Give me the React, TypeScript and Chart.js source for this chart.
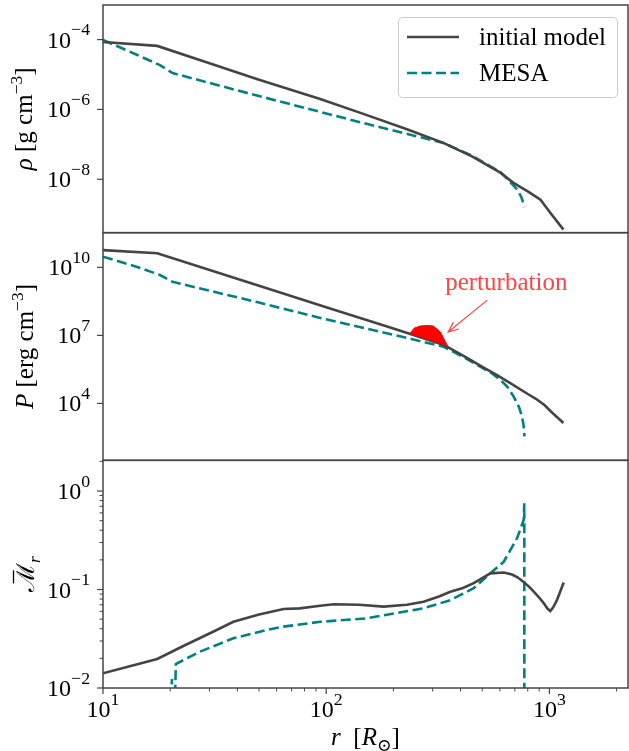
import React, { useEffect, useRef } from "react";
import { Chart, registerables } from "chart.js";

Chart.register(...registerables);

// ---------- axis ranges ----------
const R_RANGE = [10, 2250];
const RHO_RANGE = [2.95e-10, 9.8e-4];
const P_RANGE = [30.9, 3.39e11];
const M_RANGE = [0.01, 2.05];

// ---------- tick labels (exponents of 10) ----------
const xTickExps = [1, 2, 3];
const rhoTickExps = [-8, -6, -4];
const pTickExps = [4, 7, 10];
const mTickExps = [-2, -1, 0];
const xMinorTicks = [20, 30, 40, 50, 60, 70, 80, 90, 200, 300, 400, 500, 600, 700, 800, 900, 2000];
const mMinorTicks = [0.02, 0.03, 0.04, 0.05, 0.06, 0.07, 0.08, 0.09, 0.2, 0.3, 0.4, 0.5, 0.6, 0.7, 0.8, 0.9, 2];

// ---------- texts ----------
const seriesLabels = ["initial model", "MESA"];
const annotationText = "perturbation";

// ---------- panel 1: density ----------
const initRhoR = [10, 17.5, 30, 50, 94, 150, 230, 335, 450, 603, 690, 800, 912, 1009, 1156];
const initRho = [8.5e-5, 6.6e-5, 2.1e-5, 7.1e-6, 2.0e-6, 7.1e-7, 2.7e-7, 1.1e-7, 4.5e-8, 1.55e-8, 7.9e-9, 4.5e-9, 2.6e-9, 1.1e-9, 3.6e-10];
const mesaRhoR = [10, 14, 18, 20.5, 40, 94, 153, 250, 335, 450, 603, 650, 719, 750, 773];
const mesaRho = [9.8e-5, 3.8e-5, 1.86e-5, 1.1e-5, 3.5e-6, 8.5e-7, 3.8e-7, 1.74e-7, 1.1e-7, 4.7e-8, 1.6e-8, 1.0e-8, 5.0e-9, 3.0e-9, 1.6e-9];

// ---------- panel 2: pressure ----------
const initPR = [10, 17.5, 50, 100, 200, 335, 420, 501, 580, 668, 800, 870, 950, 1030, 1156];
const initP = [5.75e10, 4.2e10, 1.55e9, 1.74e8, 2.0e7, 3.9e6, 1.12e6, 4.1e5, 1.8e5, 7.9e4, 2.6e4, 1.6e4, 8.5e3, 3.9e3, 1.38e3];
const mesaPR = [10, 14, 18, 20.5, 50, 94, 200, 335, 420, 490, 550, 603, 650, 692, 730, 754, 767, 773];
const mesaP = [2.95e10, 1.1e10, 4.6e9, 2.3e9, 2.8e8, 5.9e7, 1.07e7, 3.2e6, 1.0e6, 4.2e5, 2.2e5, 1.1e5, 5.2e4, 2.0e4, 7.1e3, 2.6e3, 1.0e3, 350];
const pertR = [238, 248, 264, 284, 302, 325, 342, 353];
const pertP = [1.23e7, 2.1e7, 2.6e7, 2.75e7, 2.6e7, 1.4e7, 5.2e6, 3.0e6];

// ---------- panel 3: Mach-like quantity ----------
const initMR = [10, 17.5, 22.9, 31.3, 38.4, 50, 64.4, 76, 94, 108, 140, 181, 230, 273, 320, 360, 410, 458, 544, 624, 680, 720, 764, 810, 851, 900, 944, 980, 1009, 1040, 1081, 1159];
const initM = [0.0141, 0.0197, 0.0267, 0.0375, 0.0471, 0.0557, 0.0634, 0.0644, 0.0685, 0.0708, 0.070, 0.067, 0.070, 0.075, 0.085, 0.095, 0.1035, 0.116, 0.146, 0.149, 0.142, 0.133, 0.120, 0.107, 0.095, 0.083, 0.0724, 0.064, 0.0605, 0.066, 0.078, 0.118];
const mesaMR = [20.0, 20.35, 20.7, 21.2, 27.2, 38.4, 54.2, 64.4, 94, 152, 273, 360, 458, 544, 624, 716, 767, 772, 772.5];
const mesaM = [0.002, 0.0123, 0.002, 0.0175, 0.0234, 0.032, 0.0388, 0.042, 0.047, 0.051, 0.0644, 0.078, 0.103, 0.146, 0.191, 0.331, 0.508, 0.75, 1e-5];

// ---------- styles ----------
const SOLID = "#444444";
const TEAL = "#008080";
const RED = "#ff0000";
const ANNOT = "#ff4444";
const AXIS = "#444444";
const FAMILY = '"Liberation Serif", "DejaVu Serif", serif';
const TICK_SIZE = 24;
const LABEL_SIZE = 25;
const LEGEND_SIZE = 25;
const LINE_W = 2.6;
const DASH = [10, 4.5];

type Seg = { t: string; it?: boolean; sup?: boolean; sub?: boolean; bar?: boolean };

const rhoTitle: Seg[] = [{ t: "ρ", it: true }, { t: " [g cm" }, { t: "−3", sup: true }, { t: "]" }];
const pTitle: Seg[] = [{ t: "P", it: true }, { t: " [erg cm" }, { t: "−3", sup: true }, { t: "]" }];
const mTitle: Seg[] = [{ t: "ℳ", bar: true }, { t: "r", it: true, sub: true }];
const xTitle: Seg[] = [{ t: "r", it: true }, { t: "  [" }, { t: "R", it: true }, { t: "⊙", sub: true }, { t: "]" }];

const pts = (xs: number[], ys: number[]) => xs.map((x, i) => ({ x, y: ys[i] }));

type MathStyle = { supScale: number; supRaise: number };
const TICK_STYLE: MathStyle = { supScale: 0.74, supRaise: 0.52 };
const TITLE_STYLE: MathStyle = { supScale: 0.7, supRaise: 0.4 };

function segFont(s: Seg, size: number, st: MathStyle) {
  const sz = s.sup || s.sub ? size * st.supScale : size;
  return `${s.it ? "italic " : ""}${sz}px ${FAMILY}`;
}
function measureMath(ctx: CanvasRenderingContext2D, segs: Seg[], size: number, st: MathStyle) {
  let w = 0;
  for (const s of segs) {
    ctx.font = segFont(s, size, st);
    w += ctx.measureText(s.t).width;
  }
  return w;
}
function drawMath(ctx: CanvasRenderingContext2D, segs: Seg[], x: number, y: number, size: number, align: string, color: string, st: MathStyle) {
  const w = measureMath(ctx, segs, size, st);
  let cx = align === "center" ? x - w / 2 : align === "right" ? x - w : x;
  ctx.textAlign = "left";
  ctx.textBaseline = "alphabetic";
  ctx.fillStyle = color;
  for (const s of segs) {
    ctx.font = segFont(s, size, st);
    const dy = s.sup ? -size * st.supRaise : s.sub ? size * 0.25 : 0;
    ctx.fillText(s.t, cx, y + dy);
    const sw = ctx.measureText(s.t).width;
    if (s.bar) {
      ctx.save();
      ctx.strokeStyle = color;
      ctx.lineWidth = 1.3;
      ctx.beginPath();
      ctx.moveTo(cx + sw * 0.3, y - size * 0.82);
      ctx.lineTo(cx + sw * 0.75, y - size * 0.82);
      ctx.stroke();
      ctx.restore();
    }
    cx += sw;
  }
}
const powSegs = (e: number): Seg[] => [{ t: "10" }, { t: (e < 0 ? "−" : "") + Math.abs(e), sup: true }];

const decor = {
  id: "decor",
  beforeDraw(chart: any) {
    const ctx = chart.ctx;
    ctx.save();
    ctx.fillStyle = "#ffffff";
    ctx.fillRect(0, 0, chart.width, chart.height);
    ctx.restore();
  },
  afterDraw(chart: any) {
    const ctx: CanvasRenderingContext2D = chart.ctx;
    const sx = chart.scales.x;
    const yR = chart.scales.yRho;
    const yP = chart.scales.yP;
    const yM = chart.scales.yM;
    ctx.save();
    ctx.setLineDash([]);
    // frames
    ctx.strokeStyle = AXIS;
    ctx.lineWidth = 1.5;
    for (const s of [yR, yP, yM]) {
      ctx.strokeRect(sx.left, s.top, sx.right - sx.left, s.bottom - s.top);
    }
    // y ticks
    const yTick = (s: any, exps: number[], minors: number[]) => {
      ctx.strokeStyle = AXIS;
      ctx.lineWidth = 1.2;
      for (const e of exps) {
        const py = s.getPixelForValue(Math.pow(10, e));
        ctx.beginPath();
        ctx.moveTo(sx.left, py);
        ctx.lineTo(sx.left - 6, py);
        ctx.stroke();
        drawMath(ctx, powSegs(e), sx.left - 13, py + 8, TICK_SIZE, "right", "#000", TICK_STYLE);
      }
      ctx.lineWidth = 1;
      for (const v of minors) {
        const py = s.getPixelForValue(v);
        if (py < s.top - 0.5 || py > s.bottom + 0.5) continue;
        ctx.beginPath();
        ctx.moveTo(sx.left, py);
        ctx.lineTo(sx.left - 3.5, py);
        ctx.stroke();
      }
    };
    yTick(yR, rhoTickExps, []);
    yTick(yP, pTickExps, []);
    yTick(yM, mTickExps, mMinorTicks);
    // x ticks
    const by = yM.bottom;
    ctx.strokeStyle = AXIS;
    ctx.lineWidth = 1.2;
    for (const e of xTickExps) {
      const px = sx.getPixelForValue(Math.pow(10, e));
      ctx.beginPath();
      ctx.moveTo(px, by);
      ctx.lineTo(px, by + 6);
      ctx.stroke();
      drawMath(ctx, powSegs(e), px, by + 29, TICK_SIZE, "center", "#000", TICK_STYLE);
    }
    ctx.lineWidth = 1;
    for (const v of xMinorTicks) {
      const px = sx.getPixelForValue(v);
      ctx.beginPath();
      ctx.moveTo(px, by);
      ctx.lineTo(px, by + 3.5);
      ctx.stroke();
    }
    // axis titles
    const midX = (sx.left + sx.right) / 2;
    drawMath(ctx, xTitle, midX, by + 57, LABEL_SIZE, "center", "#000", TITLE_STYLE);
    const rot = (segs: Seg[], s: any, bx: number) => {
      ctx.save();
      ctx.translate(bx, (s.top + s.bottom) / 2);
      ctx.rotate(-Math.PI / 2);
      drawMath(ctx, segs, 0, 0, LABEL_SIZE, "center", "#000", TITLE_STYLE);
      ctx.restore();
    };
    rot(rhoTitle, yR, 32);
    rot(pTitle, yP, 33);
    rot(mTitle, yM, 34);

    // legend
    const lx = sx.right - 230;
    const ly = yR.top + 12;
    ctx.beginPath();
    ctx.roundRect(lx + 0.5, ly + 0.5, 219, 80, 4);
    ctx.fillStyle = "rgba(255,255,255,0.8)";
    ctx.fill();
    ctx.strokeStyle = "#cccccc";
    ctx.lineWidth = 1;
    ctx.stroke();
    const rows = [
      { color: SOLID, dash: [] as number[], y: ly + 20 },
      { color: TEAL, dash: DASH, y: ly + 56 },
    ];
    rows.forEach((r, i) => {
      ctx.strokeStyle = r.color;
      ctx.lineWidth = LINE_W;
      ctx.setLineDash(r.dash);
      ctx.beginPath();
      ctx.moveTo(lx + 9, r.y);
      ctx.lineTo(lx + 61, r.y);
      ctx.stroke();
      ctx.setLineDash([]);
      ctx.fillStyle = "#000";
      ctx.font = `${LEGEND_SIZE}px ${FAMILY}`;
      ctx.textAlign = "left";
      ctx.textBaseline = "middle";
      ctx.fillText(seriesLabels[i], lx + 81, r.y + 1);
    });

    // annotation
    const tipX = sx.getPixelForValue(352);
    const tipY = yP.getPixelForValue(1.4e7);
    const tailX = sx.getPixelForValue(527);
    const tailY = yP.getPixelForValue(3.6e8);
    ctx.strokeStyle = ANNOT;
    ctx.lineWidth = 1.2;
    ctx.beginPath();
    ctx.moveTo(tailX, tailY);
    ctx.lineTo(tipX, tipY);
    const ang = Math.atan2(tailY - tipY, tailX - tipX);
    const hl = 11;
    ctx.moveTo(tipX + hl * Math.cos(ang + 0.4), tipY + hl * Math.sin(ang + 0.4));
    ctx.lineTo(tipX, tipY);
    ctx.lineTo(tipX + hl * Math.cos(ang - 0.4), tipY + hl * Math.sin(ang - 0.4));
    ctx.stroke();
    ctx.fillStyle = ANNOT;
    ctx.font = `${LEGEND_SIZE}px ${FAMILY}`;
    ctx.textAlign = "center";
    ctx.textBaseline = "middle";
    ctx.fillText(annotationText, sx.getPixelForValue(641), yP.getPixelForValue(2.0e9));
    ctx.restore();
  },
};

function logAxis(range: number[], weight: number) {
  return {
    type: "logarithmic" as const,
    position: "left" as const,
    stack: "panels",
    stackWeight: 1,
    weight,
    min: range[0],
    max: range[1],
    ticks: { display: false },
    grid: { display: false },
    border: { display: false },
    afterFit: (s: any) => {
      s.width = 103;
    },
  };
}

export default function App() {
  const ref = useRef<HTMLCanvasElement>(null);
  useEffect(() => {
    const canvas = ref.current;
    if (!canvas) return;
    const line = (data: any, color: string, dash: number[], yAxisID: string, extra: any = {}) => ({
      data,
      borderColor: color,
      borderWidth: LINE_W,
      borderDash: dash,
      pointRadius: 0,
      fill: false,
      tension: 0,
      xAxisID: "x",
      yAxisID,
      clip: 0,
      ...extra,
    });
    const chart = new Chart(canvas, {
      type: "line",
      data: {
        datasets: [
          line(pts(initRhoR, initRho), SOLID, [], "yRho", { label: seriesLabels[0] }),
          line(pts(mesaRhoR, mesaRho), TEAL, DASH, "yRho", { label: seriesLabels[1] }),
          line(pts(initPR, initP), SOLID, [], "yP", { label: seriesLabels[0] }),
          line(pts(mesaPR, mesaP), TEAL, DASH, "yP", { label: seriesLabels[1] }),
          line(pts(pertR, pertP), RED, [], "yP", {
            label: annotationText,
            borderWidth: 1,
            backgroundColor: RED,
            fill: 2,
            order: -1,
          }),
          line(pts(initMR, initM), SOLID, [], "yM", { label: seriesLabels[0] }),
          line(pts(mesaMR, mesaM), TEAL, DASH, "yM", { label: seriesLabels[1] }),
        ],
      },
      options: {
        animation: false,
        responsive: false,
        devicePixelRatio: 1,
        layout: { padding: { top: 5, right: 1, left: 0, bottom: 0 } },
        plugins: { legend: { display: false }, tooltip: { enabled: false } },
        scales: {
          x: {
            type: "logarithmic",
            position: "bottom",
            min: R_RANGE[0],
            max: R_RANGE[1],
            ticks: { display: false },
            grid: { display: false },
            border: { display: false },
            afterFit: (s: any) => {
              s.height = 63;
            },
          },
          yRho: logAxis(RHO_RANGE, 3),
          yP: logAxis(P_RANGE, 2),
          yM: logAxis(M_RANGE, 1),
        },
      } as any,
      plugins: [decor],
    });
    return () => chart.destroy();
  }, []);
  return (
    <div style={{ position: "absolute", left: 0, top: 0, width: 629, height: 751 }}>
      <canvas ref={ref} width={629} height={751} style={{ display: "block", width: 629, height: 751 }} />
    </div>
  );
}
